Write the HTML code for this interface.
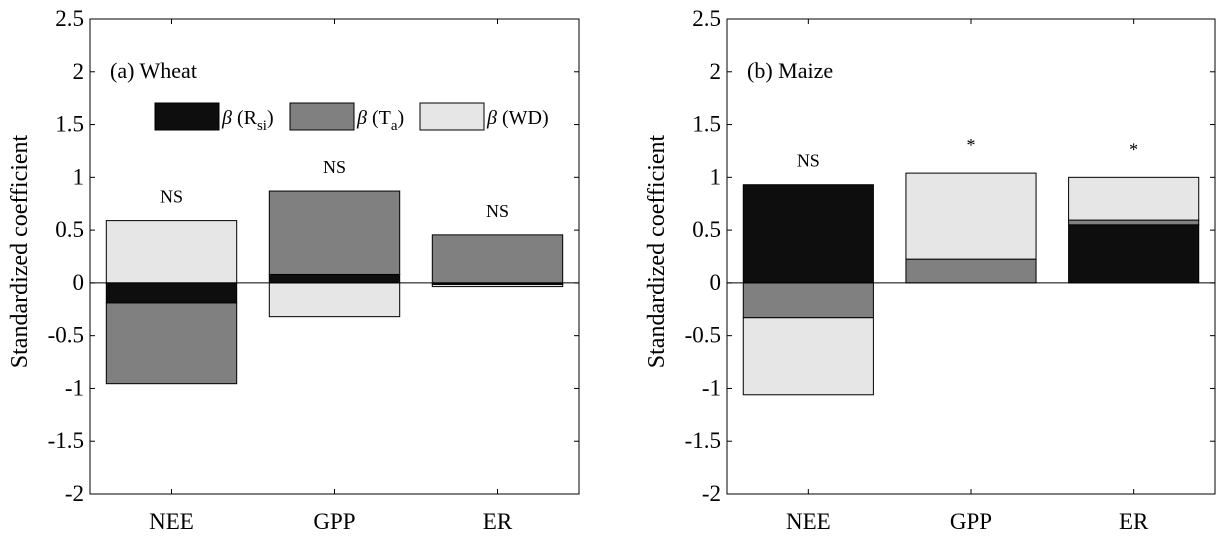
<!DOCTYPE html>
<html><head><meta charset="utf-8"><style>
body{margin:0;background:#fff;}
svg{display:block;}
svg text{font-family:"Liberation Serif","Times New Roman",Times,serif;}
</style></head><body>
<svg id="chart" width="1223" height="538" viewBox="0 0 1223 538" font-family="Liberation Serif, Times New Roman, serif" xmlns="http://www.w3.org/2000/svg"></svg>
<script>
const categories = ["NEE","GPP","ER"];
const yTicks = [2.5,2,1.5,1,0.5,0,-0.5,-1,-1.5,-2];
const yTickLabels = ["2.5","2","1.5","1","0.5","0","-0.5","-1","-1.5","-2"];
const seriesNames = ["Rsi","Ta","WD"];
const wheatRsi = [-0.19, 0.08, -0.015];
const wheatTa = [-0.765, 0.79, 0.455];
const wheatWD = [0.59, -0.32, -0.02];
const maizeRsi = [0.93, 0, 0.55];
const maizeTa = [-0.33, 0.225, 0.045];
const maizeWD = [-0.73, 0.815, 0.405];
const wheatSig = ["NS","NS","NS"];
const maizeSig = ["NS","*","*"];

const svg = document.getElementById('chart');
const NS = "http://www.w3.org/2000/svg";
const colors = ["#0e0e0e","#808080","#e6e6e6"];
const FF = '"Liberation Serif", "Times New Roman", serif';
function mk(tag, attrs, parent){
  const e = document.createElementNS(NS, tag);
  for (const k in attrs) e.setAttribute(k, attrs[k]);
  if (tag === 'text') e.style.fontFamily = FF;
  (parent||svg).appendChild(e);
  return e;
}
function panel(x0, x1, series, sig, title, key, legend){
  const yTop = 19, yBot = 494, yMin = -2, yMax = 2.5;
  const ys = v => yTop + (yMax - v) / (yMax - yMin) * (yBot - yTop);
  const xs = i => x0 + (i + 0.5) / 3 * (x1 - x0);
  const bw = 0.8 * (x1 - x0) / 3;
  const g = mk('g', {});
  
  
  categories.forEach((c, i) => {
    let pos = 0, neg = 0;
    series.forEach((arr, s) => {
      const v = arr[i];
      if (v === 0) return;
      let a, b;
      if (v > 0) { a = pos; b = pos + v; pos = b; } else { a = neg; b = neg + v; neg = b; }
      const r = mk('rect', {x: xs(i) - bw/2, y: Math.min(ys(a), ys(b)), width: bw, height: Math.abs(ys(a) - ys(b)), fill: colors[s], stroke: '#000', 'stroke-width': 1}, g);
      
      
    });
    const t = mk('text', {x: xs(i), y: ys(pos) - (sig[i] === '*' ? 22 : 18), 'text-anchor': 'middle', 'font-size': sig[i] === '*' ? 18 : 18}, g);
    t.textContent = sig[i];
    
    
    const xl = mk('text', {x: xs(i), y: 529, 'text-anchor': 'middle', 'font-size': 23}, g);
    xl.textContent = c;
    
    
    mk('line', {x1: xs(i), x2: xs(i), y1: yBot, y2: yBot - 5, stroke: '#000'}, g);
    mk('line', {x1: xs(i), x2: xs(i), y1: yTop, y2: yTop + 5, stroke: '#000'}, g);
  });
  const z = mk('line', {x1: x0, x2: x1, y1: ys(0), y2: ys(0), stroke: '#000', 'stroke-width': 1}, g);
  
  
  yTicks.forEach((v, k) => {
    mk('line', {x1: x0, x2: x0 + 5, y1: ys(v), y2: ys(v), stroke: '#000'}, g);
    mk('line', {x1: x1, x2: x1 - 5, y1: ys(v), y2: ys(v), stroke: '#000'}, g);
    const t = mk('text', {x: x0 - 6, y: ys(v) + 7, 'text-anchor': 'end', 'font-size': 23}, g);
    t.textContent = yTickLabels[k];
    
    
  });
  const box = mk('rect', {x: x0, y: yTop, width: x1 - x0, height: yBot - yTop, fill: 'none', stroke: '#000', 'stroke-width': 1}, g);
  
  
  const yt = mk('text', {x: 0, y: 0, 'text-anchor': 'middle', 'font-size': 24, transform: 'translate(' + (x0 - 63) + ',' + ((yTop + yBot) / 2 - 5) + ') rotate(-90)'}, g);
  yt.textContent = 'Standardized coefficient';
  
  
  const tt = mk('text', {x: x0 + 20, y: 78, 'font-size': 22}, g);
  tt.textContent = title;
  
  
  if (legend) {
    const lg = mk('g', {}, g);
    
    
    const lx = [155, 290, 420];
    const labels = [['R','si'],['T','a'],['WD','']];
    lx.forEach((x, s) => {
      const r = mk('rect', {x: x, y: 103, width: 64, height: 27, fill: colors[s], stroke: '#000'}, lg);
      
      
      const t = mk('text', {x: x + 67, y: 124, 'font-size': 20}, lg);
      
      
      const b = document.createElementNS(NS, 'tspan'); b.setAttribute('font-style', 'italic'); b.textContent = 'β '; t.appendChild(b);
      const p = document.createElementNS(NS, 'tspan'); p.textContent = '(' + labels[s][0]; t.appendChild(p);
      if (labels[s][1]) {
        const sb = document.createElementNS(NS, 'tspan'); sb.setAttribute('dy', '6'); sb.setAttribute('font-size', '15'); sb.textContent = labels[s][1]; t.appendChild(sb);
        const c = document.createElementNS(NS, 'tspan'); c.setAttribute('dy', '-6'); c.textContent = ')'; t.appendChild(c);
      } else { const c = document.createElementNS(NS, 'tspan'); c.textContent = ')'; t.appendChild(c); }
    });
  }
}
panel(90, 579, [wheatRsi, wheatTa, wheatWD], wheatSig, '(a) Wheat', 'wheat', true);
panel(727, 1215, [maizeRsi, maizeTa, maizeWD], maizeSig, '(b) Maize', 'maize', false);
</script>
</body></html>
